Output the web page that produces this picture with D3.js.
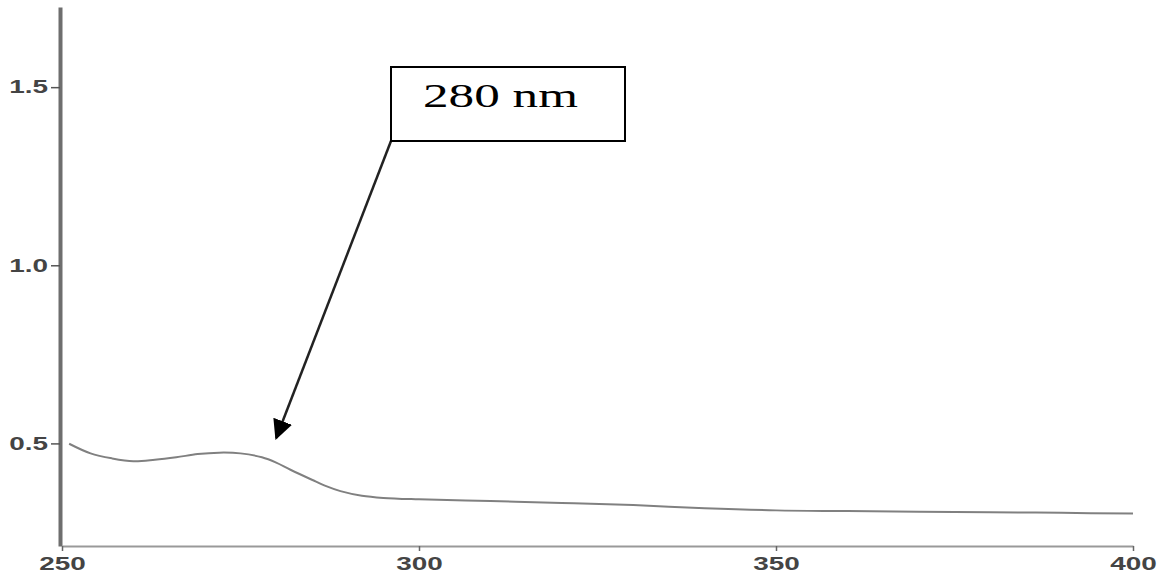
<!DOCTYPE html>
<html>
<head>
<meta charset="utf-8">
<script src="https://cdn.jsdelivr.net/npm/d3@7"></script>
<style>
  body { margin: 0; background: #fff; }
  svg { display: block; }
</style>
</head>
<body>
<div id="chart"></div>
<script>
// spectrum (wavelength in nm, absorbance)
const wavelengths = [251, 254, 257, 260, 263, 266, 269, 272, 275, 278, 280, 282, 285, 287, 289, 292, 295, 300, 310, 320, 330, 340, 350, 360, 370, 380, 390, 400];
const absorbance  = [0.499, 0.472, 0.458, 0.450, 0.454, 0.461, 0.470, 0.474, 0.472, 0.461, 0.446, 0.426, 0.398, 0.380, 0.366, 0.353, 0.347, 0.343, 0.338, 0.333, 0.327, 0.318, 0.312, 0.310, 0.308, 0.307, 0.305, 0.303];
const xTicks = [250, 300, 350, 400];
const yTicks = [0.5, 1.0, 1.5];
const peakLabel = "280 nm";
const peakPoint = [280, 0.515];

const width = 1157, height = 574;
const stretch = 1.55; // labels in the picture are wide

const svg = d3.select("#chart").append("svg")
  .attr("width", width).attr("height", height);

const x = d3.scaleLinear().domain([250, 400]).range([62, 1133]);
const y = d3.scaleLinear().domain([0.212, 1.725]).range([546, 7]);

function widen(sel) {
  sel.each(function() {
    const w = this.getComputedTextLength();
    d3.select(this).attr("textLength", w * stretch).attr("lengthAdjust", "spacingAndGlyphs");
  });
}

// x axis
const gx = svg.append("g")
  .attr("transform", "translate(0,546)")
  .call(d3.axisBottom(x).tickValues(xTicks).tickFormat(d3.format("d"))
    .tickSize(5).tickSizeOuter(0).tickPadding(6));
gx.select(".domain").attr("stroke", "#999").attr("stroke-width", 2);
gx.selectAll(".tick line").attr("stroke", "#666").attr("stroke-width", 1.5);
gx.selectAll("text")
  .attr("font-family", "Arial, 'Liberation Sans', sans-serif")
  .attr("font-size", 18).attr("font-weight", "bold").attr("fill", "#444")
  .call(widen);

// y axis
const gy = svg.append("g")
  .attr("transform", "translate(60,0)")
  .call(d3.axisLeft(y).tickValues(yTicks).tickFormat(d3.format(".1f"))
    .tickSize(9).tickSizeOuter(0).tickPadding(3));
gy.select(".domain").attr("stroke", "#6e6e6e").attr("stroke-width", 4);
gy.selectAll(".tick line").attr("stroke", "#555").attr("stroke-width", 1.5);
gy.selectAll("text")
  .attr("font-family", "Arial, 'Liberation Sans', sans-serif")
  .attr("font-size", 18).attr("font-weight", "bold").attr("fill", "#444")
  .call(widen);

// spectrum
const line = d3.line()
  .x((d, i) => x(wavelengths[i]))
  .y(d => y(d))
  .curve(d3.curveCatmullRom.alpha(0.5));

svg.append("path")
  .datum(absorbance)
  .attr("d", line)
  .attr("fill", "none")
  .attr("stroke", "#808080")
  .attr("stroke-width", 2);

// annotation box + arrow
svg.append("defs").append("marker")
  .attr("id", "head")
  .attr("viewBox", "0 0 10 10")
  .attr("refX", 9).attr("refY", 5)
  .attr("markerWidth", 20).attr("markerHeight", 22)
  .attr("markerUnits", "userSpaceOnUse")
  .attr("orient", "auto")
  .append("path")
  .attr("d", "M0,0 L10,5 L0,10 z")
  .attr("fill", "#000");

svg.append("line")
  .attr("x1", 391).attr("y1", 141)
  .attr("x2", x(peakPoint[0])).attr("y2", y(peakPoint[1]))
  .attr("stroke", "#222")
  .attr("stroke-width", 2.5)
  .attr("marker-end", "url(#head)");

svg.append("rect")
  .attr("x", 391).attr("y", 67)
  .attr("width", 234).attr("height", 74)
  .attr("fill", "#fff")
  .attr("stroke", "#000")
  .attr("stroke-width", 2);

svg.append("text")
  .attr("x", 423).attr("y", 107)
  .attr("font-family", "'Liberation Serif', 'Times New Roman', serif")
  .attr("font-size", 33)
  .attr("fill", "#000")
  .attr("textLength", 155)
  .attr("lengthAdjust", "spacingAndGlyphs")
  .text(peakLabel);
</script>
</body>
</html>
